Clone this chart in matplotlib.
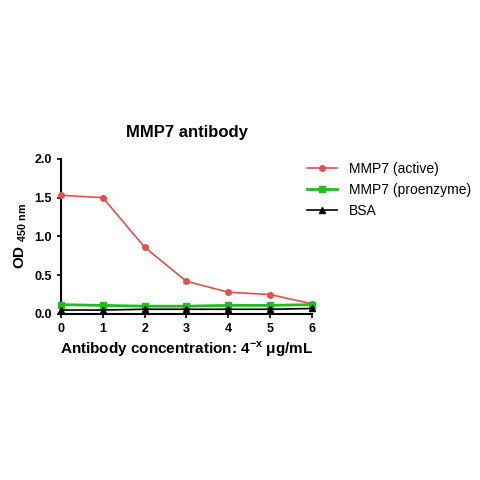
import matplotlib
matplotlib.use("Agg")
import matplotlib.pyplot as plt

x = [0, 1, 2, 3, 4, 5, 6]
active = [1.53, 1.50, 0.86, 0.42, 0.28, 0.25, 0.13]
proenzyme = [0.12, 0.11, 0.10, 0.10, 0.11, 0.11, 0.12]
bsa = [0.05, 0.05, 0.06, 0.06, 0.06, 0.06, 0.07]
labels = ["MMP7 (active)", "MMP7 (proenzyme)", "BSA"]

plt.rcParams['font.family'] = ['Liberation Sans', 'DejaVu Sans']
fig = plt.figure(figsize=(4.8, 4.8), dpi=100)
ax = fig.add_axes([0.127, 0.346, 0.523, 0.323])
ax.plot(x, active, color="#e05050", marker="o", ms=4, lw=1.2, label=labels[0], clip_on=False, zorder=3)
ax.plot(x, proenzyme, color="#22bb22", marker="s", ms=4, lw=2, label=labels[1], clip_on=False, zorder=3)
ax.plot(x, bsa, color="black", marker="^", ms=4, lw=1.2, label=labels[2], clip_on=False, zorder=4)
ax.set_xlim(0, 6)
ax.set_ylim(0, 2)
ax.set_yticks([0, 0.5, 1.0, 1.5, 2.0])
ax.set_yticklabels(["0.0", "0.5", "1.0", "1.5", "2.0"])
for s in ["top", "right"]:
    ax.spines[s].set_visible(False)
ax.spines["left"].set_linewidth(1.5)
ax.spines["bottom"].set_linewidth(1.5)
ax.tick_params(labelsize=9, width=1.2, length=3)
for t in ax.get_xticklabels() + ax.get_yticklabels():
    t.set_fontweight("bold")
ax.set_title("MMP7 antibody", fontsize=12, fontweight="bold", pad=16)
ax.set_xlabel("Antibody concentration: 4$^{\\mathregular{-x}}$ μg/mL", fontsize=11, fontweight="bold", labelpad=3)
ax.set_ylabel("OD $_{\\mathregular{450\\ nm}}$", fontsize=11, fontweight="bold")
ax.legend(loc="upper left", bbox_to_anchor=(0.93, 1.06), frameon=False, fontsize=10, handlelength=2.2)
fig.savefig("out.png", dpi=100)
